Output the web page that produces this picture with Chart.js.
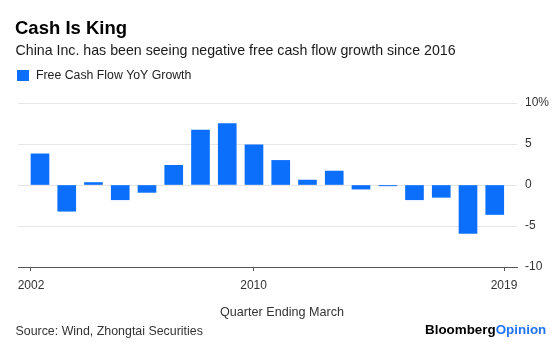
<!DOCTYPE html>
<html>
<head>
<meta charset="utf-8">
<script src="https://cdn.jsdelivr.net/npm/chart.js@4.4.1/dist/chart.umd.min.js"></script>
<style>
  html, body { margin: 0; padding: 0; background: #ffffff; }
  #wrap { width: 560px; height: 345px; position: relative; }
  canvas { display: block; }
</style>
</head>
<body>
<div id="wrap"><canvas id="chart" width="560" height="345"></canvas></div>
<script>
// Quarter ending March, year-over-year free cash flow growth (%)
const YEARS = [2002, 2003, 2004, 2005, 2006, 2007, 2008, 2009, 2010,
               2011, 2012, 2013, 2014, 2015, 2016, 2017, 2018, 2019];
const FCF_GROWTH = [3.8, -3.2, 0.3, -1.8, -0.9, 2.4, 6.7, 7.5, 4.9,
                    3.0, 0.6, 1.7, -0.5, -0.1, -1.8, -1.5, -5.9, -3.6];
const X_TICK_YEARS = [2002, 2010, 2019];
const Y_TICKS = [-10, -5, 0, 5, 10];

const SERIES_LABEL = 'Free Cash Flow YoY Growth';
const TITLE = 'Cash Is King';
const SUBTITLE = 'China Inc. has been seeing negative free cash flow growth since 2016';
const AXIS_TITLE = 'Quarter Ending March';
const SOURCE = 'Source: Wind, Zhongtai Securities';

const FONT = "'Liberation Sans', Arial, Helvetica, sans-serif";
const BLUE = '#0b6ffb';

// Heading, legend key and footer text drawn around the plot
const pageText = {
  id: 'pageText',
  afterDraw(chart) {
    const ctx = chart.ctx;
    ctx.save();
    ctx.textBaseline = 'alphabetic';
    ctx.textAlign = 'left';

    ctx.fillStyle = '#000000';
    ctx.font = `bold 18.5px ${FONT}`;
    ctx.fillText(TITLE, 15, 34.3);

    ctx.fillStyle = '#1a1a1a';
    ctx.font = `14.2px ${FONT}`;
    ctx.fillText(SUBTITLE, 15.5, 54.5);

    const ds = chart.data.datasets[0];
    ctx.fillStyle = ds.backgroundColor;
    ctx.fillRect(17, 70, 12, 11);
    ctx.fillStyle = '#222222';
    ctx.font = `12.3px ${FONT}`;
    ctx.fillText(ds.label, 36, 79.3);

    ctx.fillStyle = '#333333';
    ctx.font = `12.6px ${FONT}`;
    ctx.textAlign = 'center';
    ctx.fillText(AXIS_TITLE, 282, 316);

    ctx.textAlign = 'left';
    ctx.font = `12.4px ${FONT}`;
    ctx.fillText(SOURCE, 15.5, 335);

    ctx.font = `bold 13.4px ${FONT}`;
    ctx.fillStyle = '#000000';
    ctx.fillText('Bloomberg', 425, 334.3);
    const w = ctx.measureText('Bloomberg').width;
    ctx.fillStyle = '#1f74f6';
    ctx.fillText('Opinion', 425 + w, 334.3);
    ctx.restore();
  }
};

new Chart(document.getElementById('chart'), {
  type: 'bar',
  data: {
    datasets: [{
      label: SERIES_LABEL,
      data: YEARS.map((year, i) => ({ x: year, y: FCF_GROWTH[i] })),
      backgroundColor: BLUE,
      borderWidth: 0,
      barThickness: 18,
      xAxisID: 'x',
      yAxisID: 'y'
    }]
  },
  options: {
    responsive: false,
    devicePixelRatio: 1,
    animation: false,
    layout: { padding: { left: 18, top: 103, right: 0, bottom: 0 } },
    plugins: {
      legend: { display: false },
      tooltip: { enabled: false },
      title: { display: false }
    },
    scales: {
      x: {
        type: 'linear',
        display: false,
        offset: false,
        min: 2001.178,
        max: 2019.832
      },
      xt: {
        type: 'linear',
        position: 'bottom',
        offset: false,
        min: 2001.533,
        max: 2019.467,
        afterBuildTicks: (scale) => { scale.ticks = X_TICK_YEARS.map(v => ({ value: v })); },
        afterFit: (scale) => { scale.height = 78; },
        ticks: {
          callback: (v) => String(v),
          color: '#333333',
          font: { family: FONT, size: 12 },
          padding: 7,
          maxRotation: 0,
          autoSkip: false
        },
        grid: { offset: false, drawOnChartArea: false, tickLength: 4, color: '#555555', lineWidth: 1 },
        border: { display: true, color: '#555555', width: 1 }
      },
      y: {
        position: 'right',
        min: -10,
        max: 10,
        afterBuildTicks: (scale) => { scale.ticks = Y_TICKS.map(v => ({ value: v })); },
        afterFit: (scale) => { scale.width = 43; },
        ticks: {
          callback: (v) => (v === 10 ? '10%' : String(v)),
          color: '#333333',
          font: { family: FONT, size: 12 },
          padding: 8
        },
        grid: {
          offset: false,
          drawTicks: false,
          color: (c) => (c.tick && c.tick.value === -10 ? 'rgba(0,0,0,0)' : '#e6e6e6'),
          lineWidth: 1
        },
        border: { display: false }
      }
    }
  },
  plugins: [pageText]
});
</script>
</body>
</html>
